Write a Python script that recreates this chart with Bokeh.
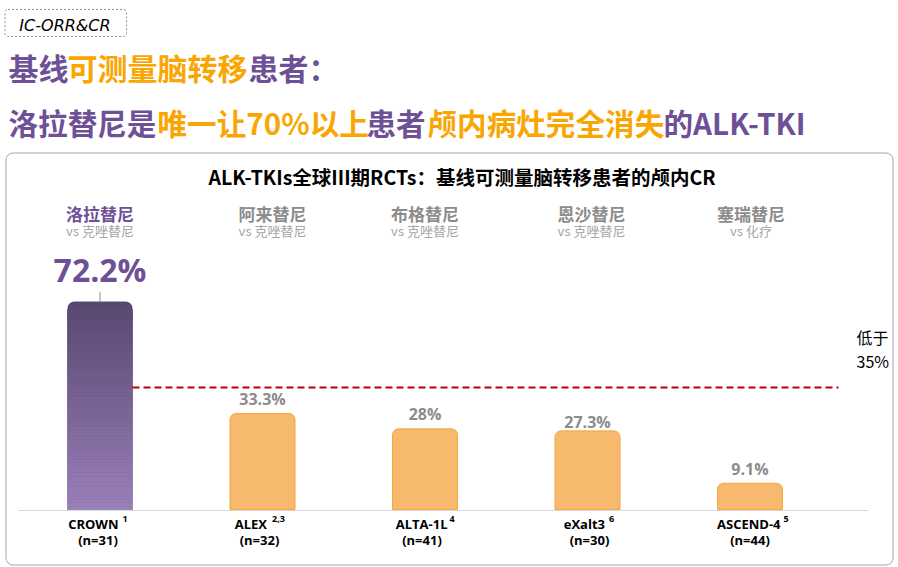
import numpy as np
from bokeh.plotting import figure
from bokeh.models import Range1d
from bokeh.core.properties import value
from bokeh.embed import file_html
from bokeh.resources import INLINE

# ---------------- data ----------------
trials = ["CROWN", "ALEX", "ALTA-1L", "eXalt3", "ASCEND-4"]
trial_refs = ["1", "2,3", "4", "6", "5"]
sample_sizes = [31, 32, 41, 30, 44]
drugs = ["洛拉替尼", "阿来替尼", "布格替尼", "恩沙替尼", "塞瑞替尼"]
comparators = ["vs 克唑替尼", "vs 克唑替尼", "vs 克唑替尼", "vs 克唑替尼", "vs 化疗"]
ic_cr = [72.2, 33.3, 28.0, 27.3, 9.1]
ic_cr_labels = ["72.2%", "33.3%", "28%", "27.3%", "9.1%"]
ref_line_level = 42.4          # where the dashed reference line sits on the bar scale
ref_label = ["低于", "35%"]
tag_text = "IC-ORR&CR"
panel_title = "ALK-TKIs全球III期RCTs：基线可测量脑转移患者的颅内CR"

# ---------------- layout ----------------
W, H = 898, 567
PX_PER_IDX, IDX0_X = 162.5, 99.5
PX_PER_PCT, BASE_FROM_BOTTOM = 2.88, 58

PURPLE = "#6E5097"
ORANGE = "#F9A602"
GRAY = "#8C8C8C"
CJK = "Noto Sans CJK SC"
LAT = "Open Sans"

idx = list(range(len(trials)))

p = figure(width=W, height=H,
           x_range=Range1d(-IDX0_X / PX_PER_IDX, (W - IDX0_X) / PX_PER_IDX),
           y_range=Range1d(-BASE_FROM_BOTTOM / PX_PER_PCT, (H - BASE_FROM_BOTTOM) / PX_PER_PCT),
           min_border=0, toolbar_location=None, output_backend="svg",
           x_axis_location=None, y_axis_location=None)
p.outline_line_color = None
p.grid.visible = False
p.background_fill_color = "white"
p.border_fill_color = "white"
p.extra_x_ranges = {"px": Range1d(0, W)}
p.extra_y_ranges = {"px": Range1d(H, 0)}


def ptext(x, y, txt, size, color, style="normal", font=CJK, align="left", baseline="middle"):
    p.text(x=[x], y=[y], text=[txt], x_range_name="px", y_range_name="px",
           text_font=value(font), text_font_size=f"{size}px", text_color=color,
           text_font_style=style, text_align=align, text_baseline=baseline)


# tag box
p.quad(left=4.5, right=126, top=9, bottom=36, x_range_name="px", y_range_name="px",
       fill_color=None, line_color="#9088B4", line_dash="2 2", line_width=1, border_radius=3)
ptext(64.5, 24.5, tag_text, 16, "black", style="italic", font="DejaVu Sans", align="center")

# headline
for x, t, c in [(8, "基线", PURPLE), (67, "可测量脑转移", ORANGE), (248, "患者：", PURPLE)]:
    ptext(x, 66.5, t, 30, c, style="bold")
for x, t, c in [(8, "洛拉替尼是", PURPLE), (157, "唯一让70%以上", ORANGE), (366, "患者", PURPLE),
                (427, "颅内病灶完全消失", ORANGE), (663, "的ALK-TKI", PURPLE)]:
    ptext(x, 122, t, 29.6, c, style="bold")

# panel
p.quad(left=5.5, right=892.5, top=152.5, bottom=564.5, x_range_name="px", y_range_name="px",
       fill_color=None, line_color="#A7A1BD", line_width=1, border_radius=7)
ptext(461.5, 176, panel_title, 19.5, "black", style="bold", align="center")

# drug headers
header_dx = [0, 10, 0, 4, 1]
p.text(x=idx, y=[213] * 5, text=drugs, y_range_name="px", x_offset=header_dx,
       text_font=value(CJK), text_font_size="17px", text_font_style="bold",
       text_color=[PURPLE] + [GRAY] * 4, text_align="center", text_baseline="middle")
p.text(x=idx, y=[230] * 5, text=comparators, y_range_name="px", x_offset=header_dx,
       text_font=value(CJK), text_font_size="13px", text_color="#A6A6A6",
       text_align="center", text_baseline="middle")

# baseline
p.segment(x0=[18], x1=[868], y0=[510], y1=[510], x_range_name="px", y_range_name="px",
          line_color="#D9D9D9", line_width=1)

# orange bars
p.vbar(x=idx[1:], top=ic_cr[1:], bottom=0, width=0.4, fill_color="#F7B96E",
       line_color="#F4A638", line_width=1, border_radius=(6, 6, 0, 0))

# lorlatinib gradient bar
top_rgb = np.array([88, 72, 112])
bot_rgb = np.array([155, 128, 186])
p.vbar(x=[0], top=[ic_cr[0]], bottom=0, width=0.4, fill_color="#%02x%02x%02x" % tuple(top_rgb),
       line_color=None, border_radius=(7, 7, 0, 0))
cap = 8 / PX_PER_PCT
edges = np.linspace(0, ic_cr[0] - cap, 61)
mids = (edges[:-1] + edges[1:]) / 2
cols = []
for m in mids:
    f = m / ic_cr[0]
    c = (bot_rgb + (top_rgb - bot_rgb) * f).round().astype(int)
    cols.append("#%02x%02x%02x" % tuple(c))
p.quad(left=-0.2, right=0.2, bottom=edges[:-1], top=edges[1:], fill_color=cols,
       line_color=cols, line_width=0.6)
p.segment(x0=[0], x1=[0], y0=[ic_cr[0]], y1=[ic_cr[0] + 9.7 / PX_PER_PCT],
          line_color=GRAY, line_width=1)

# dashed reference line
p.segment(x0=[0.2], x1=[4.545], y0=[ref_line_level], y1=[ref_line_level],
          line_color="#C00000", line_width=2, line_dash="7 4")
ptext(856, 336, ref_label[0], 16, "black")
ptext(856, 360, ref_label[1], 16, "black")

# value labels
p.text(x=[0], y=[ic_cr[0]], text=[ic_cr_labels[0]], y_offset=[-32],
       text_font=value(LAT), text_font_size="32px", text_font_style="bold",
       text_color=PURPLE, text_align="center", text_baseline="alphabetic")
p.text(x=idx[1:], y=ic_cr[1:], text=ic_cr_labels[1:], y_offset=[-15, -15, -9, -14],
       text_font=value(LAT), text_font_size="16px", text_font_style="bold",
       text_color=GRAY, text_align="center", text_baseline="alphabetic")

# category labels
name_dx = [18.5, 4.5, 22.5, 17.5, 30.5]
sup_dx = [22.5, 9.5, 24.5, 21.5, 33.5]
n_dx = [-2, -3, -3, 2, 0]
p.text(x=idx, y=[523] * 5, text=trials, y_range_name="px", x_offset=name_dx,
       text_font=value(LAT), text_font_size="13px", text_font_style="bold",
       text_color="black", text_align="right", text_baseline="middle")
p.text(x=idx, y=[518] * 5, text=trial_refs, y_range_name="px", x_offset=sup_dx,
       text_font=value(LAT), text_font_size="9px", text_font_style="bold",
       text_color="black", text_align="left", text_baseline="middle")
p.text(x=idx, y=[539] * 5, text=[f"(n={n})" for n in sample_sizes], y_range_name="px",
       x_offset=n_dx, text_font=value(LAT), text_font_size="13px", text_font_style="bold",
       text_color="black", text_align="center", text_baseline="middle")

open("out.html", "w").write(file_html(p, INLINE))
